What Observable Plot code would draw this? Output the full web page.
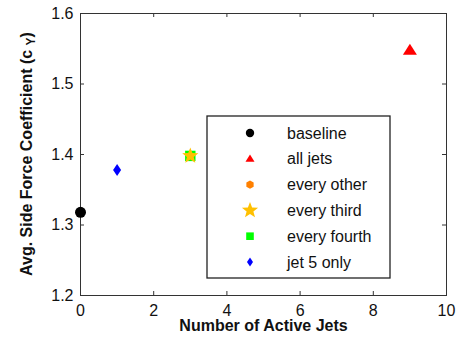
<!DOCTYPE html>
<html><head><meta charset="utf-8">
<script src="https://cdn.jsdelivr.net/npm/d3@7"></script>
<script src="https://cdn.jsdelivr.net/npm/@observablehq/plot@0.6"></script>
<style>
html,body{margin:0;padding:0;background:#fff;}
#wrap{position:relative;width:459px;height:345px;}
</style></head><body><div id="wrap"></div>
<script>
// ---- data ----
const series = ["baseline", "all jets", "every other", "every third", "every fourth", "jet 5 only"];
const activeJets = [0, 9, 3, 3, 3, 1];
const sideForce = [1.318, 1.548, 1.398, 1.398, 1.398, 1.378];
const xTicks = [0, 2, 4, 6, 8, 10];
const yTicks = [1.2, 1.3, 1.4, 1.5, 1.6];
const xTitle = "Number of Active Jets";
const yTitle = "Avg. Side Force Coefficient (c";
const ySub = "Y";

// ---- symbols ----
function sym(fn) { return { draw(ctx, size) { fn(ctx, Math.sqrt(size / Math.PI)); } }; }
const circle = sym((c, r) => { c.moveTo(r, 0); c.arc(0, 0, r, 0, 2 * Math.PI); c.closePath(); });
const triangle = sym((c, r) => { c.moveTo(0, -0.93 * r); c.lineTo(r, 0.64 * r); c.lineTo(-r, 0.64 * r); c.closePath(); });
const diamond = sym((c, r) => { const w = 0.67 * r; c.moveTo(0, -r); c.lineTo(w, 0); c.lineTo(0, r); c.lineTo(-w, 0); c.closePath(); });
const square = sym((c, r) => { c.rect(-r, -r, 2 * r, 2 * r); });
const hexagon = sym((c, r) => { for (let i = 0; i < 6; i++) { const a = Math.PI / 6 + i * Math.PI / 3; const x = r * Math.cos(a), y = r * Math.sin(a); i ? c.lineTo(x, y) : c.moveTo(x, y); } c.closePath(); });
const star = sym((c, R) => { const ri = R * 0.42; for (let i = 0; i < 10; i++) { const rr = i % 2 ? ri : R; const a = -Math.PI / 2 + i * Math.PI / 5; const x = rr * Math.cos(a), y = rr * Math.sin(a); i ? c.lineTo(x, y) : c.moveTo(x, y); } c.closePath(); });

const style = {
  "baseline":     {symbol: circle,   color: "#000000", r: 5.5, lr: 4.2, z: 0},
  "all jets":     {symbol: triangle, color: "#ff0000", r: 7,   lr: 4.5, z: 1},
  "every other":  {symbol: hexagon,  color: "#ff8000", r: 5,   lr: 4.2, z: 2},
  "every fourth": {symbol: square,   color: "#00ff00", r: 5.2, lr: 3.8, z: 3},
  "every third":  {symbol: star,     color: "#ffc000", r: 8.5, lr: 8.5, z: 4},
  "jet 5 only":   {symbol: diamond,  color: "#0000ff", r: 6,   lr: 4.5, z: 5}
};

const table = series.map((s, i) => ({name: s, x: activeJets[i], y: sideForce[i]}));
const drawOrder = [...series].sort((a, b) => style[a].z - style[b].z);

const W = 459, H = 345, mL = 80, mR = 13, mT = 13, mB = 50;
const innerH = H - mT - mB, innerW = W - mL - mR;
const tickLen = 4;
const frameColor = "#333333";
const FS = 16;

const chart = Plot.plot({
  width: W, height: H,
  marginLeft: mL, marginRight: mR, marginTop: mT, marginBottom: mB,
  style: {fontFamily: "'Liberation Sans', Arial, sans-serif", fontSize: FS + "px", color: "#111", background: "#fff"},
  x: {domain: [0, 10]},
  y: {domain: [1.2, 1.6]},
  marks: [
    Plot.axisX({ticks: xTicks, tickSize: 0, tickPadding: 9, label: null, fontSize: FS, tickFormat: d3.format("d")}),
    Plot.axisY({ticks: yTicks, tickSize: 0, tickPadding: 7, label: null, fontSize: FS, tickFormat: d3.format(".1f")}),
    Plot.tickX(xTicks, {x: d => d, stroke: frameColor, insetTop: innerH - tickLen}),
    Plot.tickX(xTicks, {x: d => d, stroke: frameColor, insetBottom: innerH - tickLen}),
    Plot.tickY(yTicks, {y: d => d, stroke: frameColor, insetRight: innerW - tickLen}),
    Plot.tickY(yTicks, {y: d => d, stroke: frameColor, insetLeft: innerW - tickLen}),
    Plot.frame({stroke: frameColor}),
    ...drawOrder.map(s => Plot.dot(table.filter(d => d.name === s), {
      x: "x", y: "y", symbol: style[s].symbol, r: style[s].r, fill: style[s].color, stroke: "none"
    })),
    Plot.text([xTitle], {frameAnchor: "bottom", dy: 35, text: d => d, fontWeight: "bold", fontSize: FS, fill: "#111"})
  ]
});

document.getElementById("wrap").appendChild(chart);

const svg = d3.select(chart);
// y title with subscript
const yt = svg.append("text")
  .attr("transform", `translate(28,${mT + innerH / 2}) rotate(-90)`)
  .attr("text-anchor", "middle")
  .attr("dominant-baseline", "middle")
  .attr("font-weight", "bold")
  .attr("font-size", FS)
  .attr("fill", "#111");
yt.append("tspan").text(yTitle + " ");
yt.append("tspan").attr("font-size", 12).attr("dy", 4).text(ySub);
yt.append("tspan").attr("dy", -4).text(")");

// legend
const lg = svg.append("g").attr("transform", "translate(207,116)");
lg.append("rect").attr("width", 183).attr("height", 162)
  .attr("fill", "#fff").attr("stroke", "#222").attr("stroke-width", 1.3);
series.forEach((s, i) => {
  const cy = 17 + i * 25.8;
  const p = d3.path();
  style[s].symbol.draw(p, Math.PI * style[s].lr * style[s].lr);
  lg.append("path").attr("d", p.toString()).attr("transform", `translate(43,${cy})`).attr("fill", style[s].color);
  lg.append("text").attr("x", 80).attr("y", cy).attr("dy", "0.35em")
    .attr("text-anchor", "start")
    .attr("font-size", FS).attr("fill", "#111").text(s);
});
</script></body></html>
